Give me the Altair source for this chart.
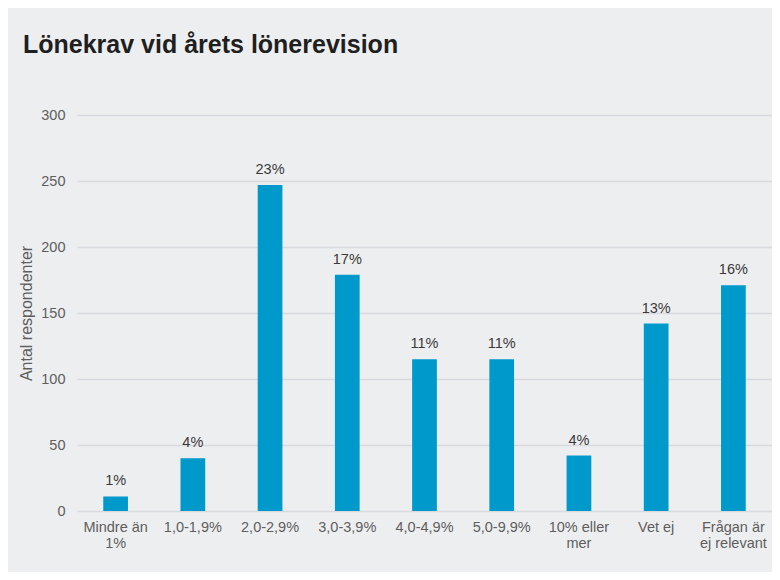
import altair as alt
import pandas as pd

categories = ["Mindre än\n1%", "1,0-1,9%", "2,0-2,9%", "3,0-3,9%", "4,0-4,9%",
              "5,0-9,9%", "10% eller\nmer", "Vet ej", "Frågan är\nej relevant"]
counts = [11, 40, 247, 179, 115, 115, 42, 142, 171]
pct_labels = ["1%", "4%", "23%", "17%", "11%", "11%", "4%", "13%", "16%"]
y_ticks = [0, 50, 100, 150, 200, 250, 300]

df = pd.DataFrame({"cat": categories, "count": counts, "pct": pct_labels})

FONT = "Liberation Sans"

x = alt.X("cat:N", sort=categories, title=None,
          scale=alt.Scale(paddingInner=0.68, paddingOuter=0.34),
          axis=alt.Axis(labelAngle=0, domain=False, ticks=False, labelPadding=9,
                        labelFontSize=14.5, labelColor="#5e5e5e", labelFont=FONT,
                        labelLineHeight=16, labelExpr="split(datum.label, '\\n')"))
y = alt.Y("count:Q", title="Antal respondenter",
          scale=alt.Scale(domain=[0, 300], nice=False),
          axis=alt.Axis(values=y_ticks, domain=False, ticks=False, labelPadding=12,
                        labelFontSize=14.5, labelColor="#5e5e5e", labelFont=FONT,
                        titleFontSize=16, titleFontWeight="normal", titleColor="#5e5e5e",
                        titleFont=FONT, titlePadding=6,
                        gridColor="#d9dadd", gridWidth=1.5))

bars = alt.Chart(df).mark_bar(color="#0099cc").encode(x=x, y=y)
text = alt.Chart(df).mark_text(baseline="alphabetic", dy=-11, fontSize=14.5,
                               font=FONT, color="#3a3a3a").encode(
    x=alt.X("cat:N", sort=categories), y="count:Q", text="pct:N")

chart = (bars + text).properties(
    width=695, height=396,
    title=alt.TitleParams("Lönekrav vid årets lönerevision", anchor="start",
                          frame="group", dx=-54, offset=29, baseline="alphabetic",
                          fontSize=25, font=FONT, fontWeight="bold", color="#1f1f1f"),
    autosize=alt.AutoSizeParams(type="none"),
    padding={"left": 69, "top": 107, "right": 0, "bottom": 61},
    background="#edeef0",
).configure_view(stroke=None)

chart.save("out.html", embed_options={"renderer": "svg", "actions": False})
